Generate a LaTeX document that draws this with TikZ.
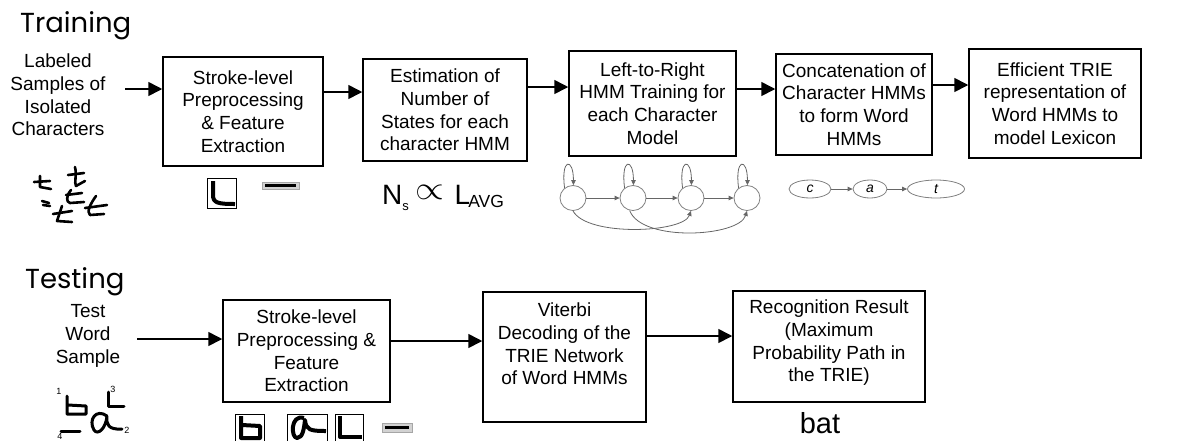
\documentclass[tikz,border=0pt]{standalone}
\usepackage{fontspec}
\usepackage{graphicx}
\setmainfont{Liberation Sans}
\newfontfamily\headfont{Poppins}
\usetikzlibrary{arrows.meta,shapes.geometric}
\tikzset{
  box/.style={draw, line width=1.5pt, inner sep=0pt, align=center, font={\fontsize{19}{22.7}\selectfont}},
  lbl/.style={align=center, inner sep=0pt, font={\fontsize{19}{22.7}\selectfont}},
  head/.style={anchor=base west, inner sep=0pt, font={\headfont\fontsize{27.5}{30}\selectfont}},
  arr/.style={line width=1.6pt, -{Triangle[length=14pt,width=14pt]}},
  state/.style={ellipse, draw=gray, line width=0.8pt, minimum width=26pt, minimum height=25pt, inner sep=0pt},
  cstate/.style={ellipse, draw=gray, line width=0.8pt, minimum height=18pt, inner sep=0pt, font={\fontsize{14}{14}\selectfont\itshape}},
  harr/.style={draw=gray!80!black, line width=0.8pt, -{Triangle[length=5pt,width=4.5pt]}},
  ink/.style={line width=2.6pt, line cap=round, line join=round},
  icon/.style={line width=4pt, line join=round},
  frame/.style={draw=black, line width=0.8pt},
  barbox/.style={draw=gray!70, fill=gray!35, line width=0.6pt}
}
\begin{document}
\begin{tikzpicture}[x=1pt,y=-1pt]
\useasboundingbox (0,0) rectangle (1194,440);

% ---------------- Training ----------------
\node[head] (train) at (20,32) {Training};
\node[lbl] (lab) at (58,95) {Labeled\\Samples of\\Isolated\\Characters};
\coordinate (labout) at (125,89);

\node[box, minimum width=160pt, minimum height=109pt] (b1) at (243,111.5) {Stroke-level\\Preprocessing\\\& Feature\\Extraction};
\node[box, minimum width=164pt, minimum height=102pt] (b2) at (445,110) {Estimation of\\Number of\\States for each\\character HMM};
\node[box, minimum width=167pt, minimum height=105pt] (b3) at (652.5,103.5) {Left-to-Right\\HMM Training for\\each Character\\Model};
\node[box, minimum width=156pt, minimum height=101pt] (b4) at (854,104.5) {Concatenation of\\Character HMMs\\to form Word\\HMMs};
\node[box, minimum width=172pt, minimum height=109pt] (b5) at (1055,103.5) {Efficient TRIE\\representation of\\Word HMMs to\\model Lexicon};

\draw[arr] (labout) -- (b1.west |- labout);
\draw[arr] ([yshift=19.5pt]b1.east) -- ([yshift=18pt]b2.west);
\draw[arr] ([yshift=23pt]b2.east) -- ([yshift=16.5pt]b3.west);
\draw[arr] ([yshift=14.5pt]b3.east) -- ([yshift=15.5pt]b4.west);
\draw[arr] ([yshift=19.5pt]b4.east) -- ([yshift=18.5pt]b5.west);

% handwritten t samples
\draw[ink] (34,182) -- (50,181);
\draw[ink] (40,176) -- (40,187) -- (51,189);
\draw[ink] (68,175) -- (84,173);
\draw[ink] (75,167) .. controls (77,175) and (74,183) .. (76,186) -- (85,181);
\draw[ink] (66,195) -- (82,193);
\draw[ink] (71,190) .. controls (66,196) and (66,202) .. (70,203) -- (84,202);
\draw[ink] (42,201) -- (49,203);
\draw[ink] (43,205) -- (50,206);
\draw[ink] (53,214) -- (72,211);
\draw[ink] (62,206) -- (57,221) -- (72,222);
\draw[ink] (85,208) -- (107,205);
\draw[ink] (96,196) .. controls (91,203) and (86,212) .. (90,215) -- (104,214);

% feature icons (training)
\draw[frame] (207,178) rectangle (236,208);
\draw[icon] (213,181) -- (213,195) .. controls (213,203) and (218,204) .. (235,204);
\draw[barbox] (262,182) rectangle (299,189);
\draw[line width=3pt] (265,185.5) -- (296,185.5);

% Ns prop L_AVG
\node[anchor=base west, inner sep=0pt] (ns) at (382,204)
 {{\fontsize{28}{30}\selectfont N}{\fontsize{13}{13}\selectfont\raisebox{-6pt}{s}}\hspace{7pt}\raisebox{5pt}{\scalebox{3.7}[3.3]{$\propto$}}\hspace{10pt}{\fontsize{28}{30}\selectfont L}\hspace{-2pt}{\fontsize{17.5}{18}\selectfont\raisebox{-3pt}{AVG}}};

% HMM
\node[state] (s1) at (573,198) {};
\node[state] (s2) at (633,198) {};
\node[state] (s3) at (691,198) {};
\node[state] (s4) at (747,198) {};
\draw[harr] (s1) -- (s2);
\draw[harr] (s2) -- (s3);
\draw[harr] (s3) -- (s4);
\foreach \s in {s1,s2,s3,s4}
  \draw[harr] (\s.130) .. controls +(-4,-30) and +(0,-28) .. (\s.88);
\draw[harr] (s1.south) .. controls +(14,26) and +(-8,22) .. (s3.south);
\draw[harr] (s2.-105) .. controls +(12,32) and +(-8,26) .. (s4.south);

% cat
\node[cstate, minimum width=42pt] (cc) at (810,189) {c};
\node[cstate, minimum width=34pt] (ca) at (870,189) {a};
\node[cstate, minimum width=57pt] (ct) at (936,189) {t};
\draw[harr] (cc) -- (ca);
\draw[harr] (ca) -- (ct);

% ---------------- Testing ----------------
\node[head] (test) at (25,288) {Testing};
\node[lbl] (tws) at (88,336) {Test\\Word\\Sample};
\coordinate (tsout) at (137,339);

\node[box, minimum width=167pt, minimum height=102pt] (t1) at (306.5,351) {Stroke-level\\Preprocessing \&\\Feature\\Extraction};
\node[box, minimum width=163pt, minimum height=130pt] (t2) at (564.5,357) {};
\node[lbl] (t2txt) at (564.5,344) {Viterbi\\Decoding of the\\TRIE Network\\of Word HMMs};
\node[box, minimum width=192pt, minimum height=111pt] (t3) at (829,346.5) {};
\node[lbl] (t3txt) at (829,343) {Recognition Result\\(Maximum\\Probability Path in\\the TRIE)};

\draw[arr] (tsout) -- (t1.west |- tsout);
\draw[arr] ([yshift=10pt]t1.east) -- ([yshift=16pt]t2.west);
\draw[arr] ([yshift=21pt]t2.east) -- ([yshift=10.5pt]t3.west);

\node[anchor=base, inner sep=0pt, font={\fontsize{29}{30}\selectfont}] (bat) at (820,433) {bat};

% handwritten word "ba" with stroke numbers
\node[font={\fontsize{9}{9}\selectfont\rmfamily}, inner sep=0pt] (n1) at (59,391) {1};
\node[font={\fontsize{9}{9}\selectfont\rmfamily}, inner sep=0pt] (n4) at (60,436) {4};
\node[font={\fontsize{9}{9}\selectfont\rmfamily}, inner sep=0pt] (n3) at (113,389) {3};
\node[font={\fontsize{9}{9}\selectfont\rmfamily}, inner sep=0pt] (n2) at (127,430) {2};
\draw[ink, line width=3pt] (67,396) -- (67,414) -- (86,414) -- (86,406) -- (68,405);
\draw[ink, line width=3pt] (61,431) -- (80,431);
\draw[ink, line width=3pt] (107,416) .. controls (96,408) and (88,420) .. (94,430) .. controls (98,436) and (106,428) .. (107,416) .. controls (106,424) and (108,430) .. (122,429);
\draw[ink, line width=3pt] (108,392) -- (108,406) -- (124,406);

% feature icons (testing)
\draw[frame] (235,414) rectangle (264,441);
\draw[icon] (241,416) -- (241,438) -- (260,438) -- (260,426) -- (242,425);
\draw[frame] (287,414) rectangle (327,441);
\draw[icon] (304,418) .. controls (290,414) and (291,438) .. (297,438) .. controls (303,438) and (304,428) .. (305,420) .. controls (306,430) and (310,431) .. (326,431);
\draw[frame] (335,414) rectangle (363,441);
\draw[icon] (340,416) -- (340,437) -- (362,437);
\draw[barbox] (382,423) rectangle (412,432);
\draw[line width=3pt] (385,427.5) -- (409,427.5);
\end{tikzpicture}
\end{document}
